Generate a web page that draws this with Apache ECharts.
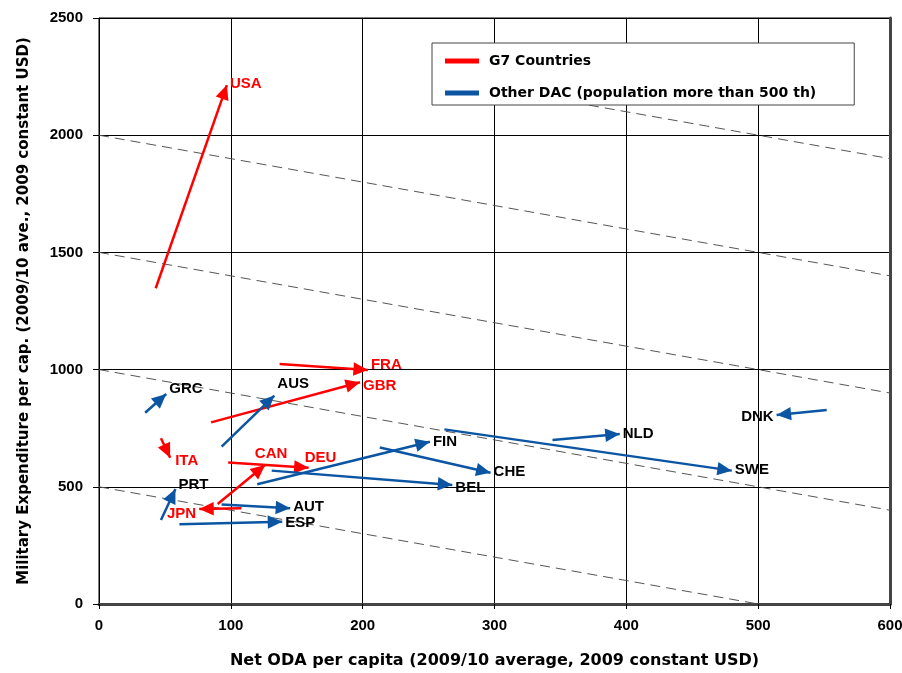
<!DOCTYPE html>
<html>
<head>
<meta charset="utf-8">
<script src="https://cdn.jsdelivr.net/npm/echarts@6/dist/echarts.min.js"></script>
<style>html,body{margin:0;padding:0;background:#fff}#c{width:902px;height:673px}</style>
</head>
<body>
<div id="c"></div>
<script>
// ---- data ----
const g7Countries = ['USA', 'FRA', 'GBR', 'ITA', 'CAN', 'DEU', 'JPN'];
const g7Start = [[43, 1347], [137, 1024], [85, 775], [47, 707], [90, 427], [98, 604], [108, 408]];
const g7End   = [[97, 2214], [204, 998], [198, 946], [54, 624], [126, 593], [159, 581], [76, 405]];

const dacCountries = ['GRC', 'AUS', 'PRT', 'AUT', 'ESP', 'FIN', 'BEL', 'CHE', 'NLD', 'SWE', 'DNK'];
const dacStart = [[35, 816], [93, 671], [47, 358], [93, 425], [61, 340], [120, 511], [131, 569], [213, 668], [344, 700], [262, 745], [552, 828]];
const dacEnd   = [[51, 896], [133, 889], [58, 491], [145, 408], [139, 351], [251, 692], [268, 508], [297, 560], [395, 725], [480, 569], [514, 806]];

// iso-lines x + y = const
const isoLines = [
  [[0, 500], [500, 0]],
  [[0, 1000], [600, 400]],
  [[0, 1500], [600, 900]],
  [[0, 2000], [600, 1400]],
  [[300, 2200], [600, 1900]]
];

const xTicks = [0, 100, 200, 300, 400, 500, 600];
const yTicks = [0, 500, 1000, 1500, 2000, 2500];

const seriesNames = ['G7 Countries', 'Other DAC (population more than 500 th)'];

// ---- styles ----
const RED = '#ff0000';
const BLUE = '#0b55a3';
// arrow head: tip at the centre of its box so the tip lands on the end point
const HEAD = 'path://M0,0M28,0M14,14L20.5,28L7.5,28Z';
const labelLayout = {
  USA: ['right', [0, -1]], FRA: ['right', [0, -5]], GBR: ['right', [0, 4]],
  ITA: ['right', [2, 3]], CAN: ['top', [6, -1]], DEU: ['top', [12, 1]],
  JPN: ['left', [0, 5]], GRC: ['right', [0, -5]], AUS: ['right', [0, -12]],
  PRT: ['right', [0, -4]], AUT: ['right', [0, -2]], ESP: ['right', [0, 1]],
  FIN: ['right', [0, 0]], BEL: ['right', [0, 3]], CHE: ['right', [0, -1]],
  NLD: ['right', [0, 0]], SWE: ['right', [0, -1]], DNK: ['left', [0, 2]]
};
const FONT = 'Liberation Sans';
const WIDE = 'DejaVu Sans';

function arrowData(names, s, e) {
  return names.map((n, i) => ({ name: n, coords: [s[i], e[i]] }));
}
function labelData(names, e, color) {
  return names.map((n, i) => ({
    name: n, value: e[i],
    label: { position: labelLayout[n][0], offset: labelLayout[n][1], color: color }
  }));
}

const chart = echarts.init(document.getElementById('c'));
const series = [];
isoLines.forEach(seg => series.push({
  type: 'line', data: seg, symbol: 'none', silent: true, z: 1,
  lineStyle: { color: '#555', width: 1, type: [10, 6] }, animation: false
}));
const arrowCommon = {
  type: 'lines', coordinateSystem: 'cartesian2d', z: 3,
  symbol: ['none', HEAD], symbolSize: [0, 29],
  animation: false
};
series.push(Object.assign({
  name: seriesNames[0],
  data: arrowData(g7Countries, g7Start, g7End),
  itemStyle: { color: RED },
  lineStyle: { color: RED, width: 2.5, opacity: 1, curveness: 0 }
}, arrowCommon));
series.push(Object.assign({
  name: seriesNames[1],
  data: arrowData(dacCountries, dacStart, dacEnd),
  itemStyle: { color: BLUE },
  lineStyle: { color: BLUE, width: 2.5, opacity: 1, curveness: 0 }
}, arrowCommon));
[[g7Countries, g7End, RED], [dacCountries, dacEnd, '#000']].forEach(([n, e, c]) => series.push({
  type: 'scatter', symbolSize: 0, silent: true, z: 4,
  itemStyle: { color: c },
  label: { show: true, formatter: '{b}', fontFamily: FONT, fontWeight: 'bold', fontSize: 15, distance: 3, opacity: 1 },
  data: labelData(n, e, c), animation: false
}));

const axisLabelStyle = { color: '#000', fontFamily: FONT, fontWeight: 'bold', fontSize: 15 };

chart.setOption({
  animation: false,
  grid: { left: 99, right: 12, top: 18, bottom: 69, show: true, borderColor: '#000', borderWidth: 1, outerBoundsMode: 'none', containLabel: false },
  legend: {
    orient: 'vertical', left: 432, top: 43,
    data: seriesNames.map(n => ({ name: n, icon: 'rect' })),
    itemWidth: 32, itemHeight: 3, itemGap: 18,
    padding: [11, 38, 5, 13],
    backgroundColor: '#fff', borderColor: '#444', borderWidth: 1,
    textStyle: { color: '#000', fontFamily: WIDE, fontWeight: 'bold', fontSize: 14, padding: [0, 0, 0, 6] },
    selectedMode: false
  },
  xAxis: {
    type: 'value', min: 0, max: 600, interval: 100,
    name: 'Net ODA per capita (2009/10 average, 2009 constant USD)',
    nameLocation: 'middle', nameGap: 49,
    nameTextStyle: { color: '#000', fontFamily: WIDE, fontWeight: 'bold', fontSize: 16 },
    axisLine: { show: true, lineStyle: { color: '#444', width: 3 } },
    axisTick: { show: true, length: 5, lineStyle: { color: '#000' } },
    axisLabel: Object.assign({ margin: 14, formatter: v => String(v) }, axisLabelStyle),
    splitLine: { show: true, lineStyle: { color: '#000', width: 1 } }
  },
  yAxis: [{
    type: 'value', min: 0, max: 2500, interval: 500,
    name: 'Military Expenditure per cap. (2009/10 ave., 2009 constant USD)',
    nameLocation: 'middle', nameGap: 67,
    nameTextStyle: { color: '#000', fontFamily: WIDE, fontWeight: 'bold', fontSize: 15 },
    axisLine: { show: true, lineStyle: { color: '#000', width: 1 } },
    axisTick: { show: true, length: 6, lineStyle: { color: '#000' } },
    axisLabel: Object.assign({ margin: 16, formatter: v => String(v) }, axisLabelStyle),
    splitLine: { show: true, lineStyle: { color: '#000', width: 1 } }
  }, {
    type: 'value', min: 0, max: 2500, interval: 500, position: 'right',
    axisLine: { show: true, lineStyle: { color: '#444', width: 3 } },
    axisTick: { show: false }, axisLabel: { show: false }, splitLine: { show: false }
  }],
  series: series
});
</script>
</body>
</html>
